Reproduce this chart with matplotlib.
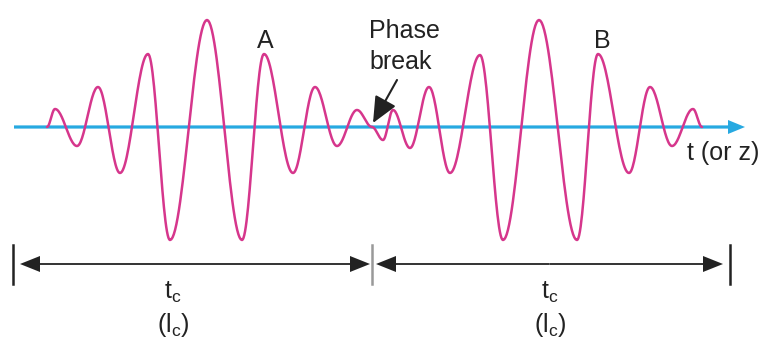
import numpy as np
import matplotlib
matplotlib.use("Agg")
import matplotlib.pyplot as plt

plt.rcParams['font.family'] = ['Liberation Sans', 'DejaVu Sans']
plt.rcParams['mathtext.fontset'] = 'custom'
plt.rcParams['mathtext.rm'] = 'Liberation Sans'
plt.rcParams['mathtext.it'] = 'Liberation Sans'

magenta = '#d6368c'
cyan = '#27a9e1'
dark = '#222222'

# turning points of the two wave trains (x along t, y = field, axis at 127)
packet_a_x = [47, 55, 77, 98, 120, 148, 170, 207, 242, 264, 293, 315, 337, 357, 372]
packet_a_y = [127, 109, 146, 87, 173, 54, 240, 20, 240, 54, 173, 87, 146, 110, 127]
packet_b_x = [372, 383, 393, 410, 429, 450, 480, 503, 539, 577, 598, 629, 650, 672, 693, 702]
packet_b_y = [127, 140, 110, 148, 87, 173, 55, 240, 20, 240, 54, 173, 87, 146, 109, 127]

axis_y = 127
axis_start, axis_end = 14, 745
bar_x = [13, 372, 730]
span_y = 264
phase_break = (373, 123)
phase_label = (397, 80)
fs = 18


def smooth(xs, ys, n=30):
    # half-cosine between consecutive turning points, gives a sine-like trace
    px, py = [], []
    for i in range(len(xs) - 1):
        s = np.linspace(0, 1, n)
        px.extend(xs[i] + (xs[i + 1] - xs[i]) * s)
        py.extend(ys[i] + (ys[i + 1] - ys[i]) * (1 - np.cos(np.pi * s)) / 2)
    return px, py


fig = plt.figure(figsize=(7.67, 3.39), dpi=100)
ax = fig.add_axes([0, 0, 1, 1])
ax.set_xlim(0, 767)
ax.set_ylim(339, 0)
ax.axis('off')

# time axis
ax.arrow(axis_start, axis_y, axis_end - axis_start, 0, width=3.2, head_width=14,
         head_length=17, length_includes_head=True, color=cyan, lw=0, zorder=1)

for xs, ys in [(packet_a_x, packet_a_y), (packet_b_x, packet_b_y)]:
    px, py = smooth(xs, ys)
    ax.plot(px, py, color=magenta, lw=1.8, zorder=2, solid_capstyle='round')

ax.text(265, 48, 'A', fontsize=fs, ha='center', va='baseline', color=dark)
ax.text(602, 48, 'B', fontsize=fs, ha='center', va='baseline', color=dark)
ax.text(369, 38, 'Phase', fontsize=fs, ha='left', va='baseline', color=dark)
ax.text(369, 69, 'break', fontsize=fs, ha='left', va='baseline', color=dark)
ax.text(687, 160, 't (or z)', fontsize=fs, ha='left', va='baseline', color=dark)

ax.annotate('', xy=phase_break, xytext=phase_label,
            arrowprops=dict(arrowstyle='-|>,head_length=1.0,head_width=0.45',
                            mutation_scale=16, color=dark, lw=1.5,
                            shrinkA=0, shrinkB=0))

# coherence spans
for i, bx in enumerate(bar_x):
    ax.plot([bx, bx], [245, 284], color='#999999' if i == 1 else dark, lw=1.8)

for a, b in [(bar_x[0] + 7, bar_x[1] - 2), (bar_x[1] + 4, bar_x[2] - 7)]:
    m = (a + b) / 2
    for end in (a, b):
        ax.arrow(m, span_y, end - m, 0, width=1.8, head_width=16, head_length=20,
                 length_includes_head=True, color=dark, lw=0)

for cx in [173, 550]:
    ax.text(cx, 299, r'$\mathrm{t_c}$', fontsize=fs, ha='center', va='baseline', color=dark)
    ax.text(cx, 332, r'$\mathrm{(l_c)}$', fontsize=fs, ha='center', va='baseline', color=dark)

fig.savefig('out.png', dpi=100)
